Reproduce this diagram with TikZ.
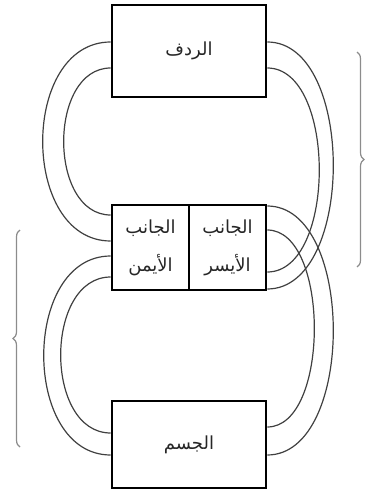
\documentclass[tikz,border=0pt]{standalone}
\usepackage{fontspec}
\newfontfamily\arabicfont[Script=Arabic]{DejaVu Sans}
\TeXXeTstate=1
\usetikzlibrary{decorations.pathreplacing}

\tikzset{
  part/.style={draw, line width=2.6pt, inner sep=0pt, align=center,
    font=\arabicfont\fontsize{18}{38}\selectfont, text=black!85},
  cord/.style={line width=1.2pt, draw=black!75},
  bracket/.style={decorate, decoration={brace, amplitude=7pt}, line width=1.2pt, draw=black!45}
}

\begin{document}
\begin{tikzpicture}[x=1pt, y=-1pt]
\useasboundingbox (0,0) rectangle (366,494);

\node[part, minimum width=154pt, minimum height=92pt] (rump) at (189,51) {\beginR الردف\endR};
\node[part, minimum width=77pt, minimum height=85pt] (rside) at (150.5,247.5) {\beginR الجانب\endR\\\beginR الأيمن\endR};
\node[part, minimum width=77pt, minimum height=85pt] (lside) at (227.5,247.5) {\beginR الجانب\endR\\\beginR الأيسر\endR};
\node[part, minimum width=154pt, minimum height=87pt] (body) at (189,444.5) {\beginR الجسم\endR};

\coordinate (rump-wo) at (rump.west |- 0,42);
\coordinate (rump-wi) at (rump.west |- 0,68);
\coordinate (rump-eo) at (rump.east |- 0,42);
\coordinate (rump-ei) at (rump.east |- 0,68);
\coordinate (rside-wi1) at (rside.west |- 0,215);
\coordinate (rside-wo1) at (rside.west |- 0,241);
\coordinate (rside-wo2) at (rside.west |- 0,256);
\coordinate (rside-wi2) at (rside.west |- 0,277);
\coordinate (lside-eo2) at (lside.east |- 0,206);
\coordinate (lside-ei2) at (lside.east |- 0,230);
\coordinate (lside-ei1) at (lside.east |- 0,272);
\coordinate (lside-eo1) at (lside.east |- 0,289);
\coordinate (body-wi) at (body.west |- 0,433);
\coordinate (body-wo) at (body.west |- 0,455);
\coordinate (body-ei) at (body.east |- 0,427);
\coordinate (body-eo) at (body.east |- 0,455);

\draw[cord] (rump-wo) .. controls +(-90.7,0) and +(-90.7,0) .. (rside-wo1);
\draw[cord] (rump-wi) .. controls +(-62.7,0) and +(-62.7,0) .. (rside-wi1);
\draw[cord] (rside-wo2) .. controls +(-89.3,0) and +(-89.3,0) .. (body-wo);
\draw[cord] (rside-wi2) .. controls +(-66.7,0) and +(-66.7,0) .. (body-wi);

\draw[cord] (rump-eo) .. controls +(88,0) and +(88,0) .. (lside-eo1);
\draw[cord] (rump-ei) .. controls +(69.3,0) and +(69.3,0) .. (lside-ei1);
\draw[cord] (lside-eo2) .. controls +(88,0) and +(88,0) .. (body-eo);
\draw[cord] (lside-ei2) .. controls +(62.7,0) and +(62.7,0) .. (body-ei);

\draw[bracket] (20,447) -- (20,230);
\draw[bracket] (357,52) -- (357,267);
\end{tikzpicture}
\end{document}
